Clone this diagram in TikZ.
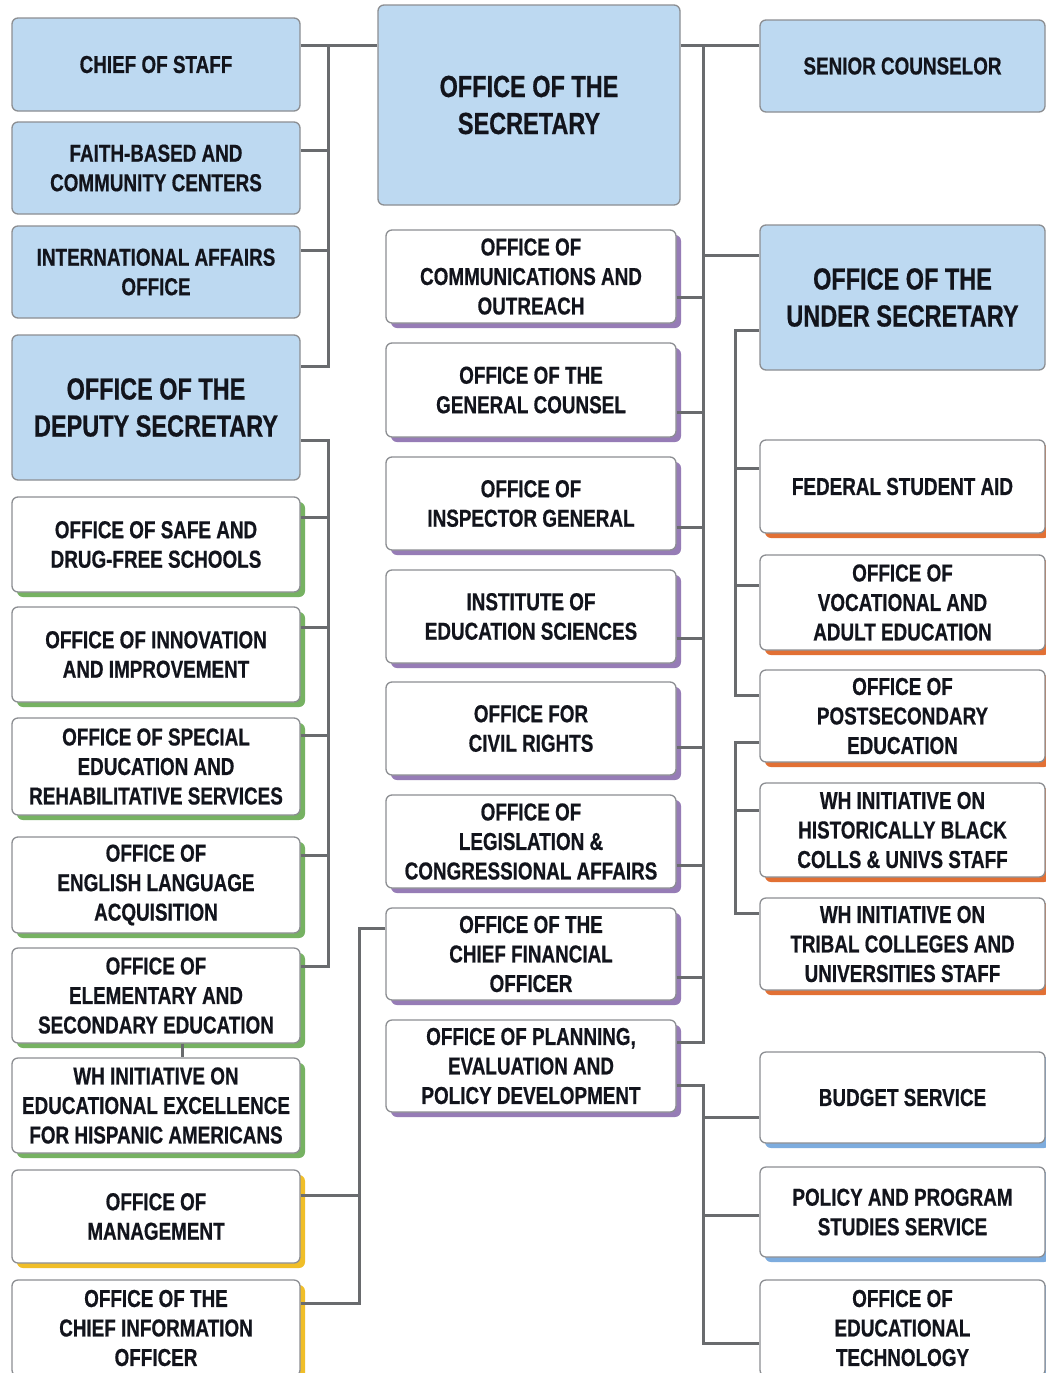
\documentclass[tikz,border=0pt]{standalone}
\usepackage{fontspec}
\setmainfont{Liberation Sans}[FakeStretch=0.77,FakeBold=0.6]
\usetikzlibrary{shadows}
\definecolor{bluefill}{RGB}{189,217,241}
\definecolor{bordergray}{RGB}{140,142,146}
\definecolor{conngray}{RGB}{105,107,110}
\definecolor{txt}{RGB}{18,20,28}
\definecolor{greenS}{RGB}{118,178,98}
\definecolor{purpleS}{RGB}{150,124,182}
\definecolor{orangeS}{RGB}{226,112,52}
\definecolor{yellowS}{RGB}{240,190,40}
\definecolor{lblueS}{RGB}{125,172,222}
\tikzset{
 box/.style={rectangle, rounded corners=6pt, draw=bordergray, line width=1.3pt, inner sep=0pt, align=center, text=txt, font=\fontsize{24.5}{29.5}\selectfont\bfseries},
 bluebox/.style={box, fill=bluefill},
 bigtext/.style={font=\fontsize{30.5}{37}\selectfont\bfseries},
 whitebox/.style={box, fill=white, drop shadow={shadow xshift=5pt, shadow yshift=-5pt, fill=#1, opacity=1}},
 conn/.style={draw=conngray, line width=3pt},
}
\begin{document}
\begin{tikzpicture}[x=1pt,y=-1pt]
\useasboundingbox (0,0) rectangle (1046,1373);
\clip (0,0) rectangle (1046,1373);
\fill[white] (0,0) rectangle (1046,1373);
% left column
\node[bluebox, minimum width=288pt, minimum height=93pt] (cos) at (156,64.5) {CHIEF OF STAFF};
\node[bluebox, minimum width=288pt, minimum height=92pt] (faith) at (156,168) {FAITH-BASED AND\\COMMUNITY CENTERS};
\node[bluebox, minimum width=288pt, minimum height=92pt] (intl) at (156,272) {INTERNATIONAL AFFAIRS\\OFFICE};
\node[bluebox, bigtext, minimum width=288pt, minimum height=145pt] (dep) at (156,407.5) {OFFICE OF THE\\DEPUTY SECRETARY};
\node[whitebox=greenS, minimum width=288pt, minimum height=95pt] (safe) at (156,544.5) {OFFICE OF SAFE AND\\DRUG-FREE SCHOOLS};
\node[whitebox=greenS, minimum width=288pt, minimum height=95pt] (innov) at (156,654.5) {OFFICE OF INNOVATION\\AND IMPROVEMENT};
\node[whitebox=greenS, minimum width=288pt, minimum height=97pt] (spec) at (156,766.5) {OFFICE OF SPECIAL\\EDUCATION AND\\REHABILITATIVE SERVICES};
\node[whitebox=greenS, minimum width=288pt, minimum height=96pt] (ela) at (156,885) {OFFICE OF\\ENGLISH LANGUAGE\\ACQUISITION};
\node[whitebox=greenS, minimum width=288pt, minimum height=95pt] (elem) at (156,995.5) {OFFICE OF\\ELEMENTARY AND\\SECONDARY EDUCATION};
\node[whitebox=greenS, minimum width=288pt, minimum height=95pt] (hisp) at (156,1105.5) {WH INITIATIVE ON\\EDUCATIONAL EXCELLENCE\\FOR HISPANIC AMERICANS};
\node[whitebox=yellowS, minimum width=288pt, minimum height=93pt] (mgmt) at (156,1216.5) {OFFICE OF\\MANAGEMENT};
\node[whitebox=yellowS, minimum width=288pt, minimum height=96pt] (cio) at (156,1328) {OFFICE OF THE\\CHIEF INFORMATION\\OFFICER};
% middle column
\node[bluebox, bigtext, minimum width=302pt, minimum height=200pt] (sec) at (529,105) {OFFICE OF THE\\SECRETARY};
\node[whitebox=purpleS, minimum width=290pt, minimum height=93pt] (comm) at (531,276.5) {OFFICE OF\\COMMUNICATIONS AND\\OUTREACH};
\node[whitebox=purpleS, minimum width=290pt, minimum height=94pt] (gc) at (531,390) {OFFICE OF THE\\GENERAL COUNSEL};
\node[whitebox=purpleS, minimum width=290pt, minimum height=93pt] (ig) at (531,503.5) {OFFICE OF\\INSPECTOR GENERAL};
\node[whitebox=purpleS, minimum width=290pt, minimum height=93pt] (ies) at (531,616.5) {INSTITUTE OF\\EDUCATION SCIENCES};
\node[whitebox=purpleS, minimum width=290pt, minimum height=93pt] (ocr) at (531,728.5) {OFFICE FOR\\CIVIL RIGHTS};
\node[whitebox=purpleS, minimum width=290pt, minimum height=93pt] (leg) at (531,841.5) {OFFICE OF\\LEGISLATION \&\\CONGRESSIONAL AFFAIRS};
\node[whitebox=purpleS, minimum width=290pt, minimum height=92pt] (cfo) at (531,954) {OFFICE OF THE\\CHIEF FINANCIAL\\OFFICER};
\node[whitebox=purpleS, minimum width=290pt, minimum height=92pt] (plan) at (531,1066) {OFFICE OF PLANNING,\\EVALUATION AND\\POLICY DEVELOPMENT};
% right column
\node[bluebox, minimum width=285pt, minimum height=92pt] (sc) at (902.5,66) {SENIOR COUNSELOR};
\node[bluebox, bigtext, minimum width=285pt, minimum height=145pt] (us) at (902.5,297.5) {OFFICE OF THE\\UNDER SECRETARY};
\node[whitebox=orangeS, minimum width=285pt, minimum height=93pt] (fsa) at (902.5,486.5) {FEDERAL STUDENT AID};
\node[whitebox=orangeS, minimum width=285pt, minimum height=95pt] (voc) at (902.5,602.5) {OFFICE OF\\VOCATIONAL AND\\ADULT EDUCATION};
\node[whitebox=orangeS, minimum width=285pt, minimum height=92pt] (pse) at (902.5,716) {OFFICE OF\\POSTSECONDARY\\EDUCATION};
\node[whitebox=orangeS, minimum width=285pt, minimum height=94pt] (hbcu) at (902.5,830) {WH INITIATIVE ON\\HISTORICALLY BLACK\\COLLS \& UNIVS STAFF};
\node[whitebox=orangeS, minimum width=285pt, minimum height=92pt] (tribal) at (902.5,944) {WH INITIATIVE ON\\TRIBAL COLLEGES AND\\UNIVERSITIES STAFF};
\node[whitebox=lblueS, minimum width=285pt, minimum height=91pt] (budget) at (902.5,1097.5) {BUDGET SERVICE};
\node[whitebox=lblueS, minimum width=285pt, minimum height=90pt] (pps) at (902.5,1212) {POLICY AND PROGRAM\\STUDIES SERVICE};
\node[whitebox=lblueS, minimum width=285pt, minimum height=96pt] (edtech) at (902.5,1328) {OFFICE OF\\EDUCATIONAL\\TECHNOLOGY};
% trunk positions
\coordinate (jL) at (328,0);
\coordinate (jC) at (359,0);
\coordinate (jM) at (703,0);
\coordinate (jU) at (735,0);
% connectors left
\draw[conn] (cos.east |- 0,45) -- (sec.west |- 0,45);
\draw[conn] (jL |- 0,45) -- (jL |- 0,366) -- (dep.east |- 0,366);
\draw[conn] (faith.east |- 0,150) -- (jL |- 0,150);
\draw[conn] (intl.east |- 0,250) -- (jL |- 0,250);
\draw[conn] (dep.east |- 0,440) -| (jL |- 0,966) -- (elem.east |- 0,966);
\draw[conn] (safe.east |- 0,517) -- (jL |- 0,517);
\draw[conn] (innov.east |- 0,627) -- (jL |- 0,627);
\draw[conn] (spec.east |- 0,735) -- (jL |- 0,735);
\draw[conn] (ela.east |- 0,855) -- (jL |- 0,855);
\draw[conn] (elem.south -| 182,0) -- (hisp.north -| 182,0);
\draw[conn] (cfo.west |- 0,928) -| (jC |- 0,1303) -- (cio.east |- 0,1303);
\draw[conn] (mgmt.east |- 0,1195) -- (jC |- 0,1195);
% connectors middle/right
\draw[conn] (sec.east |- 0,45) -- (sc.west |- 0,45);
\draw[conn] (jM |- 0,45) -- (jM |- 0,1042) -- (plan.east |- 0,1042);
\draw[conn] (jM |- 0,255) -- (us.west |- 0,255);
\draw[conn] (comm.east |- 0,297) -- (jM |- 0,297);
\draw[conn] (gc.east |- 0,412) -- (jM |- 0,412);
\draw[conn] (ig.east |- 0,527) -- (jM |- 0,527);
\draw[conn] (ies.east |- 0,638) -- (jM |- 0,638);
\draw[conn] (ocr.east |- 0,747) -- (jM |- 0,747);
\draw[conn] (leg.east |- 0,865) -- (jM |- 0,865);
\draw[conn] (cfo.east |- 0,977) -- (jM |- 0,977);
\draw[conn] (plan.east |- 0,1085) -| (jM |- 0,1343) -- (edtech.west |- 0,1343);
\draw[conn] (jM |- 0,1117) -- (budget.west |- 0,1117);
\draw[conn] (jM |- 0,1215) -- (pps.west |- 0,1215);
\draw[conn] (us.west |- 0,330) -| (jU |- 0,695) -- (pse.west |- 0,695);
\draw[conn] (jU |- 0,468) -- (fsa.west |- 0,468);
\draw[conn] (jU |- 0,585) -- (voc.west |- 0,585);
\draw[conn] (pse.west |- 0,742) -| (jU |- 0,913) -- (tribal.west |- 0,913);
\draw[conn] (jU |- 0,810) -- (hbcu.west |- 0,810);
\end{tikzpicture}
\end{document}
